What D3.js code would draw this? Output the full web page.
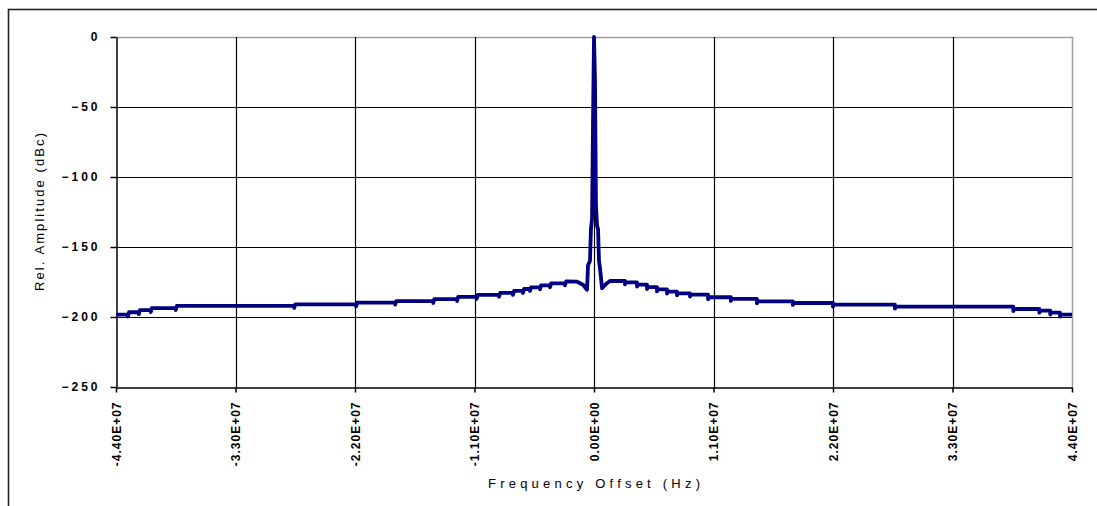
<!DOCTYPE html>
<html>
<head>
<meta charset="utf-8">
<script src="https://cdn.jsdelivr.net/npm/d3@7"></script>
<style>
  html, body { margin: 0; padding: 0; background: #fff; }
  svg { display: block; }
  text { font-family: "Liberation Sans", Arial, sans-serif; fill: #000; }
</style>
</head>
<body>
<svg id="chart" width="1097" height="506"></svg>
<script>
// Spectrum: relative amplitude vs. frequency offset
const freqHz = [
  -44.0e6, -42.9e6, -42.9e6, -42.8e6,
  -41.9e6, -41.9e6, -41.8e6,
  -40.8e6, -40.8e6, -40.7e6,
  -38.5e6, -38.5e6, -38.4e6,
  -27.6e6, -27.6e6, -27.5e6,
  -21.9e6, -21.9e6, -21.8e6,
  -18.3e6, -18.3e6, -18.2e6,
  -14.8e6, -14.8e6, -14.7e6,
  -12.6e6, -12.6e6, -12.5e6,
  -10.8e6, -10.8e6, -10.7e6,
  -8.74e6, -8.74e6, -8.64e6,
  -7.46e6, -7.46e6, -7.36e6,
  -6.54e6, -6.54e6, -6.44e6,
  -5.89e6, -5.89e6, -5.79e6,
  -4.97e6, -4.97e6, -4.87e6,
  -4.05e6, -4.05e6, -3.95e6,
  -2.67e6, -2.67e6, -2.57e6,
  -1.56e6, -1.01e6, -0.64e6, -0.55e6, -0.37e6, -0.28e6, -0.18e6, -0.09e6,
  0,
  0.09e6, 0.18e6, 0.28e6, 0.37e6, 0.46e6, 0.55e6, 0.74e6, 1.10e6, 1.47e6,
  2.85e6, 2.85e6, 2.95e6,
  3.96e6, 3.96e6, 4.06e6,
  4.88e6, 4.88e6, 4.98e6,
  5.80e6, 5.80e6, 5.90e6,
  6.72e6, 6.72e6, 6.82e6,
  7.64e6, 7.64e6, 7.74e6,
  8.84e6, 8.84e6, 8.94e6,
  10.5e6, 10.5e6, 10.6e6,
  12.6e6, 12.6e6, 12.7e6,
  15.0e6, 15.0e6, 15.1e6,
  18.3e6, 18.3e6, 18.4e6,
  22.0e6, 22.0e6, 22.1e6,
  27.7e6, 27.7e6, 27.8e6,
  38.6e6, 38.6e6, 38.7e6,
  41.0e6, 41.0e6, 41.1e6,
  42.0e6, 42.0e6, 42.1e6,
  42.9e6, 42.9e6, 43.0e6,
  44.0e6
];
const relDb = [
  -198.3, -198.3, -199.7, -196.6,
  -196.6, -198.0, -195.1,
  -195.1, -196.5, -193.6,
  -193.6, -195.0, -192.1,
  -192.1, -193.5, -191.0,
  -191.0, -192.4, -189.8,
  -189.8, -191.2, -188.6,
  -188.6, -190.0, -187.2,
  -187.2, -188.6, -185.6,
  -185.6, -187.0, -184.2,
  -184.2, -185.6, -182.8,
  -182.8, -184.2, -181.4,
  -181.4, -182.8, -180.0,
  -180.0, -181.4, -178.8,
  -178.8, -180.2, -177.4,
  -177.4, -178.8, -176.0,
  -176.0, -177.4, -174.6,
  -174.8, -177.0, -180.5, -163.0, -160.0, -137.0, -130.0, -60.0,
  0,
  -30.0, -120.0, -135.0, -137.0, -160.0, -165.0, -179.5, -176.5, -174.3,
  -174.3, -176.7, -175.3,
  -175.3, -178.3, -176.9,
  -176.9, -180.0, -178.6,
  -178.6, -181.7, -180.3,
  -180.3, -183.3, -181.9,
  -181.9, -184.5, -183.1,
  -183.1, -185.4, -184.0,
  -184.0, -187.3, -185.9,
  -185.9, -188.5, -187.1,
  -187.1, -190.2, -188.8,
  -188.8, -191.4, -190.0,
  -190.0, -192.6, -191.2,
  -191.2, -194.0, -192.6,
  -192.6, -195.7, -194.3,
  -194.3, -196.9, -195.5,
  -195.5, -198.3, -196.9,
  -196.9, -199.7, -198.3,
  -198.3
];

const xTickValues = [-44e6, -33e6, -22e6, -11e6, 0, 11e6, 22e6, 33e6, 44e6];
const xTickLabels = ["-4.40E+07", "-3.30E+07", "-2.20E+07", "-1.10E+07", "0.00E+00",
                     "1.10E+07", "2.20E+07", "3.30E+07", "4.40E+07"];
const yTickValues = [0, -50, -100, -150, -200, -250];
const xTitle = "Frequency Offset (Hz)";
const yTitle = "Rel. Amplitude (dBc)";

const svg = d3.select("#chart");
const plot = { left: 116, right: 1072, top: 37, bottom: 387 };

const x = d3.scaleLinear().domain([-44e6, 44e6]).range([plot.left, plot.right]);
const y = d3.scaleLinear().domain([-250, 0]).range([plot.bottom, plot.top]);

// outer frame
svg.append("rect")
  .attr("x", 8.5).attr("y", 9.5)
  .attr("width", 1100).attr("height", 520)
  .attr("fill", "none").attr("stroke", "#222").attr("stroke-width", 1.6);

// plot-area border (top and right in grey)
svg.append("path")
  .attr("d", `M${plot.left},${plot.top + 0.5}H${plot.right + 0.5}V${plot.bottom}`)
  .attr("fill", "none").attr("stroke", "#a0a0a0").attr("stroke-width", 1.5);

// gridlines
const grid = svg.append("g").attr("stroke", "#000").attr("stroke-width", 1.2);
grid.selectAll("line.h")
  .data(yTickValues.filter(v => v !== 0 && v !== -250))
  .join("line")
  .attr("x1", plot.left).attr("x2", plot.right)
  .attr("y1", d => Math.round(y(d)) + 0.5).attr("y2", d => Math.round(y(d)) + 0.5);
grid.selectAll("line.v")
  .data(xTickValues.slice(1, -1))
  .join("line")
  .attr("y1", plot.top).attr("y2", plot.bottom)
  .attr("x1", d => Math.round(x(d)) + 0.5).attr("x2", d => Math.round(x(d)) + 0.5);

// y axis
const yAxis = svg.append("g")
  .attr("transform", `translate(${plot.left + 0.5},0)`)
  .call(d3.axisLeft(y).tickValues(yTickValues).tickSize(6).tickSizeOuter(0).tickPadding(13));
yAxis.select(".domain").attr("stroke", "#000").attr("stroke-width", 1.5);
yAxis.selectAll(".tick line").attr("stroke", "#000").attr("stroke-width", 1.5);
yAxis.selectAll(".tick text")
  .attr("font-size", 12).attr("font-weight", "bold")
  .style("letter-spacing", "3px")
  .attr("dx", "3px");

// x axis
const xAxis = svg.append("g")
  .attr("transform", `translate(0,${plot.bottom + 0.5})`)
  .call(d3.axisBottom(x).tickValues(xTickValues).tickSize(5).tickSizeOuter(0)
        .tickFormat((d, i) => xTickLabels[i]));
xAxis.select(".domain").attr("stroke", "#000").attr("stroke-width", 1.5);
xAxis.selectAll(".tick line").attr("stroke", "#000").attr("stroke-width", 1.5);
xAxis.selectAll(".tick text")
  .attr("font-size", 12).attr("font-weight", "bold")
  .style("letter-spacing", "1px")
  .attr("text-anchor", "end")
  .attr("transform", "rotate(-90)")
  .attr("x", -14).attr("y", 0).attr("dy", "0.35em");

// spectrum trace
const pts = freqHz.map((f, i) => [f, relDb[i]]);
svg.append("path")
  .datum(pts)
  .attr("fill", "none")
  .attr("stroke", "#000080")
  .attr("stroke-width", 3.8)
  .attr("stroke-linejoin", "round")
  .attr("d", d3.line().x(d => x(d[0])).y(d => y(d[1])));

// axis titles
svg.append("text")
  .attr("x", (plot.left + plot.right) / 2).attr("y", 488)
  .attr("text-anchor", "middle").attr("font-size", 13)
  .attr("textLength", 212).attr("lengthAdjust", "spacing")
  .text(xTitle);
svg.append("text")
  .attr("transform", `translate(44,212) rotate(-90)`)
  .attr("text-anchor", "middle").attr("font-size", 13)
  .attr("textLength", 158).attr("lengthAdjust", "spacing")
  .text(yTitle);
</script>
</body>
</html>
